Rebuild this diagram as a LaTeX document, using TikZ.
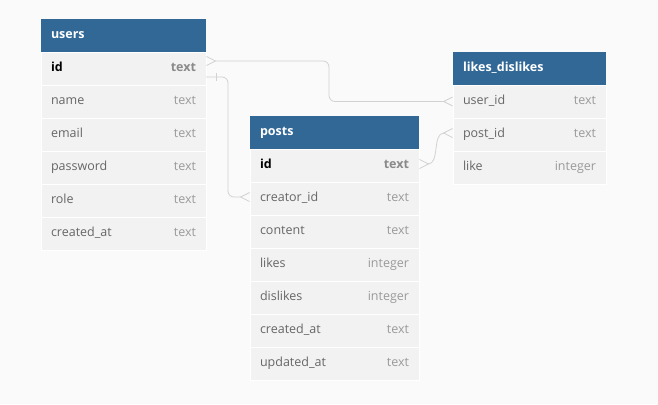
\documentclass[tikz,border=0pt]{standalone}
\usepackage{fontspec}
\setmainfont{Open Sans}
\usepackage{xcolor}
\usetikzlibrary{arrows.meta, positioning}

\definecolor{headblue}{HTML}{316896}
\definecolor{rowgray}{HTML}{F2F2F2}
\definecolor{namegray}{HTML}{666666}
\definecolor{typegray}{HTML}{9A9A9A}
\definecolor{pkgray}{HTML}{8A8A8A}
\definecolor{linegray}{HTML}{D2D2D2}
\definecolor{canvas}{HTML}{FAFAFA}

\newcommand{\colfield}[2]{#1\hfill\textcolor{typegray}{#2}}
\newcommand{\pkfield}[2]{\textbf{#1}\hfill\textcolor{pkgray}{\textbf{#2}}}

\begin{document}
\begin{tikzpicture}[
		x=1pt, y=-1pt,
		font=\fontsize{12.5}{15}\selectfont,
		tblhead/.style={fill=headblue, text=white, font=\fontsize{12.5}{15}\selectfont\bfseries,
			anchor=north west, minimum height=33pt, inner xsep=10pt, inner ysep=0pt, outer sep=0pt,
			text height=9.5pt, text depth=3pt, align=left},
		tblrow/.style={fill=rowgray, draw=white, line width=0.6pt, text=namegray,
			minimum height=33pt, inner xsep=10pt, inner ysep=0pt, outer sep=0pt,
			text height=9.5pt, text depth=3pt, align=left},
		crow/.tip={Straight Barb[reversed, length=9pt, width=9pt]},
		link/.style={draw=linegray, line width=0.8pt},
		node distance=0pt
		]
		
		\useasboundingbox[fill=canvas] (0,0) rectangle (658,404);
		
		% users
		\node[tblhead, text width=145pt] (users) at (41,19) {users};
		\node[tblrow, text width=145pt, text=black, below=of users] (users-id) {\pkfield{id}{text}};
		\node[tblrow, text width=145pt, below=of users-id] (users-name) {\colfield{name}{text}};
		\node[tblrow, text width=145pt, below=of users-name] (users-email) {\colfield{email}{text}};
		\node[tblrow, text width=145pt, below=of users-email] (users-password) {\colfield{password}{text}};
		\node[tblrow, text width=145pt, below=of users-password] (users-role) {\colfield{role}{text}};
		\node[tblrow, text width=145pt, below=of users-role] (users-created) {\colfield{created\_at}{text}};
		
		% posts
		\node[tblhead, text width=149pt] (posts) at (250,116) {posts};
		\node[tblrow, text width=149pt, text=black, below=of posts] (posts-id) {\pkfield{id}{text}};
		\node[tblrow, text width=149pt, below=of posts-id] (posts-creator) {\colfield{creator\_id}{text}};
		\node[tblrow, text width=149pt, below=of posts-creator] (posts-content) {\colfield{content}{text}};
		\node[tblrow, text width=149pt, below=of posts-content] (posts-likes) {\colfield{likes}{integer}};
		\node[tblrow, text width=149pt, below=of posts-likes] (posts-dislikes) {\colfield{dislikes}{integer}};
		\node[tblrow, text width=149pt, below=of posts-dislikes] (posts-created) {\colfield{created\_at}{text}};
		\node[tblrow, text width=149pt, below=of posts-created] (posts-updated) {\colfield{updated\_at}{text}};
		
		% likes_dislikes
		\node[tblhead, text width=133pt] (likes) at (453,52) {likes\_dislikes};
		\node[tblrow, text width=133pt, below=of likes] (likes-user) {\colfield{user\_id}{text}};
		\node[tblrow, text width=133pt, below=of likes-user] (likes-post) {\colfield{post\_id}{text}};
		\node[tblrow, text width=133pt, below=of likes-post] (likes-like) {\colfield{like}{integer}};
		
		% Relations
		\draw[link, crow-crow, rounded corners=6pt] ([yshift=7.5pt]users-id.east) -- ++(123,0) |- (likes-user.west);
		\draw[link, -crow, rounded corners=6pt] ([yshift=-8.5pt]users-id.east) -- ++(22,0) |- ([yshift=1.5pt]posts-creator.west);
		\draw[link] ([xshift=10pt, yshift=-4.5pt]users-id.east) -- ([xshift=10pt, yshift=-12.5pt]users-id.east);
		\draw[link, crow-crow] ([yshift=1.5pt]posts-id.east) -- ++(9,0)
			.. controls +(12,0) and +(-12,0) .. ([xshift=-9pt, yshift=1.5pt]likes-post.west)
			-- ([yshift=1.5pt]likes-post.west);
		
	\end{tikzpicture}
\end{document}
